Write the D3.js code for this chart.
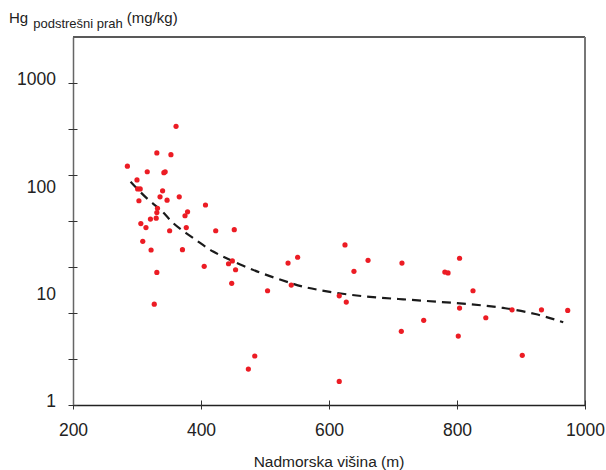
<!DOCTYPE html>
<html>
<head>
<meta charset="utf-8">
<script src="https://cdn.jsdelivr.net/npm/d3@7"></script>
<style>
  body { margin: 0; background: #fff; }
  svg { font-family: "Liberation Sans", Arial, sans-serif; }
</style>
</head>
<body>
<div class="chart-container"></div>
<script>
// altitude (m) and Hg in roof dust (mg/kg)
const altitude = [361, 331, 353, 285, 316, 342, 344, 300, 301, 305,
                  340, 303, 336, 347, 366, 407, 332, 331, 379, 375,
                  321, 330, 306, 314, 377, 351, 423, 452, 309, 322,
                  371, 405, 443, 449, 454, 331, 448, 504, 536, 551,
                  541, 327, 474, 625, 661, 639, 714, 781, 786, 804,
                  616, 627, 825, 804, 886, 932, 973, 748, 845, 713,
                  802, 902, 484, 616];
const mercury = [395, 223, 215, 168, 149, 146, 149, 125, 103, 103,
                 99, 80, 87, 81, 87, 73, 68, 62, 63, 58,
                 54, 55, 49, 45, 45, 42, 42, 43, 33.5, 27.8,
                 28, 19.6, 20.7, 22, 18.2, 17.2, 13.6, 11.6, 21, 23.8,
                 13.1, 8.7, 2.16, 31, 22.3, 17.6, 21, 17.3, 17, 23.3,
                 10.4, 9.1, 11.6, 8, 7.7, 7.7, 7.6, 6.15, 6.5, 4.86,
                 4.39, 2.9, 2.86, 1.66];

// smoothed trend (dashed)
const trendX = [290, 318, 339, 354, 377, 398, 419, 440, 466, 492, 518,
                542, 560, 612, 664, 716, 768, 820, 872, 924, 966];
const trendY = [120, 80, 65.6, 50, 39.8, 32.5, 26.6, 23.3, 19.7, 17.1, 15.1,
                13.6, 12.5, 11, 10.1, 9.66, 9.17, 8.73, 8.1, 7.1, 5.9];

const xTicks = [200, 400, 600, 800, 1000];
const yLabels = [1, 10, 100, 1000];
const yTicks = d3.range(0, 8).map(k => Math.pow(10, 3 * k / 7));

const width = 606, height = 470;
const margin = {top: 37, right: 21, bottom: 65, left: 73};

const xScale = d3.scaleLinear()
    .domain([200, 1000])
    .range([margin.left, width - margin.right]);

const yScale = d3.scaleLog()
    .domain([1, Math.pow(10, 24 / 7)])
    .range([height - margin.bottom, margin.top]);

const svg = d3.select('.chart-container')
    .append('svg')
    .attr('width', width)
    .attr('height', height);

// frame top + right
svg.append('line')
    .attr('x1', xScale(200)).attr('x2', xScale(1000))
    .attr('y1', yScale.range()[1]).attr('y2', yScale.range()[1])
    .style('stroke', '#222').style('stroke-width', 1.3);
svg.append('line')
    .attr('x1', xScale(1000)).attr('x2', xScale(1000))
    .attr('y1', yScale.range()[1]).attr('y2', yScale.range()[0])
    .style('stroke', '#777').style('stroke-width', 2);

// x axis
const xAxis = svg.append('g')
    .attr('transform', 'translate(0,' + yScale.range()[0] + ')')
    .call(d3.axisBottom(xScale).tickValues(xTicks).tickSize(9).tickSizeOuter(0)
        .tickFormat(d3.format('d')));
xAxis.select('.domain').style('stroke', '#222').style('stroke-width', 1.3);
xAxis.selectAll('.tick line').attr('y1', -4.5).attr('y2', 4.5)
    .style('stroke', '#333').style('stroke-width', 1);
xAxis.selectAll('.tick text').attr('y', 31).attr('dy', 0)
    .style('font-size', '17.5px').style('fill', '#222');

// y axis ticks
const yAxis = svg.append('g')
    .attr('transform', 'translate(' + xScale(200) + ',0)')
    .call(d3.axisLeft(yScale).tickValues(yTicks).tickSize(9).tickSizeOuter(0)
        .tickFormat(''));
yAxis.select('.domain').style('stroke', '#666').style('stroke-width', 1.5);
yAxis.selectAll('.tick line').attr('x1', -4.5).attr('x2', 4.5)
    .style('stroke', '#333').style('stroke-width', 1);

// y labels sit on the decades
const yLab = svg.append('g')
    .attr('transform', 'translate(' + (xScale(200) - 17) + ',0)')
    .call(d3.axisLeft(yScale).tickValues(yLabels).tickSize(0).tickFormat(d3.format('d')));
yLab.select('.domain').remove();
yLab.selectAll('.tick text').attr('x', 0).attr('dy', '0.1em')
    .style('font-size', '17.5px').style('fill', '#222');

// trend line
const line = d3.line()
    .x(d => xScale(d[0]))
    .y(d => yScale(d[1]))
    .curve(d3.curveBasis);

svg.append('path')
    .datum(d3.zip(trendX, trendY))
    .attr('d', line)
    .style('fill', 'none')
    .style('stroke', '#1a1a1a')
    .style('stroke-width', 2.2)
    .style('stroke-dasharray', '9,6');

// points
svg.selectAll('.dot')
    .data(d3.zip(altitude, mercury))
    .enter()
    .append('circle')
    .attr('class', 'dot')
    .attr('r', 2.6)
    .attr('cx', d => xScale(d[0]))
    .attr('cy', d => yScale(d[1]))
    .style('fill', '#ec1c24');

// titles
const yTitle = svg.append('text')
    .attr('x', 9)
    .attr('y', 23)
    .style('fill', '#222');
yTitle.append('tspan').style('font-size', '15px').text('Hg');
yTitle.append('tspan').attr('dx', 5).attr('dy', 5).style('font-size', '13px').text('podstrešni prah');
yTitle.append('tspan').attr('dx', 4).attr('dy', -5).style('font-size', '15px').text('(mg/kg)');

svg.append('text')
    .attr('x', xScale(600))
    .attr('y', 467)
    .style('text-anchor', 'middle')
    .style('font-size', '15.5px')
    .style('fill', '#222')
    .text('Nadmorska višina (m)');
</script>
</body>
</html>
